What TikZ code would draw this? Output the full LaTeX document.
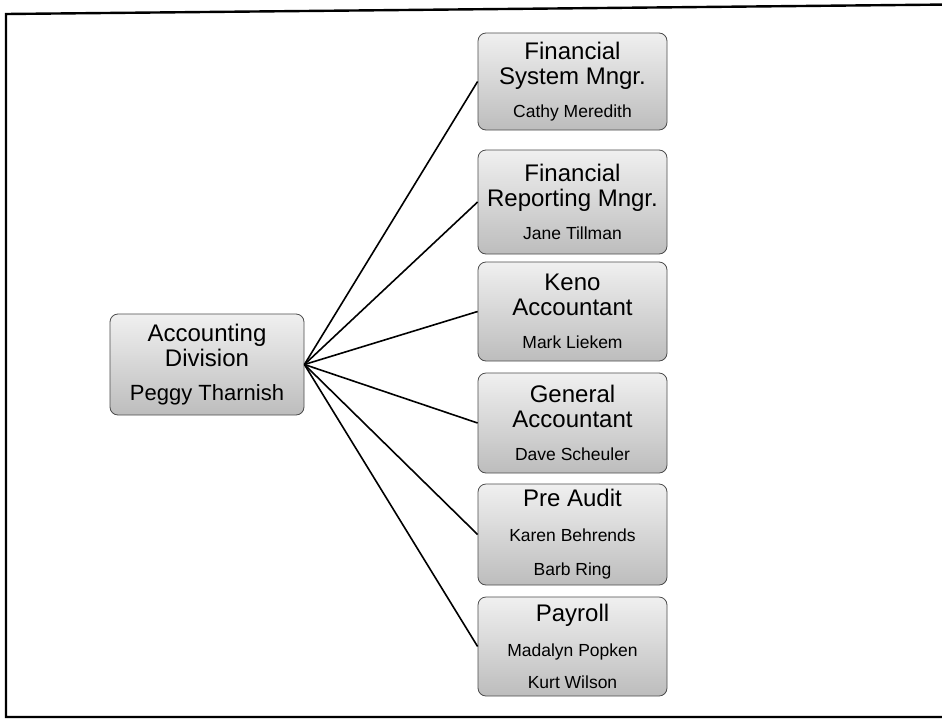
\documentclass[tikz,border=0pt]{standalone}
\usepackage{fontspec}
\setmainfont{Liberation Sans}
\usetikzlibrary{shadings}

% type sizes used inside the boxes
\newcommand\posttitle{\fontsize{24}{25}\selectfont}
\newcommand\personname{\fontsize{17.5}{28}\selectfont}
\newcommand\headname{\fontsize{22}{26}\selectfont}

\tikzset{
  orgbox/.style={
    draw=black!70, line width=0.8pt, rounded corners=8pt,
    top color=black!6, bottom color=black!26,
    inner sep=0pt, align=center, minimum width=189pt, font=\posttitle
  },
  headbox/.style={orgbox, minimum width=194pt, minimum height=101pt},
  link/.style={draw=black, line width=1.6pt},
  frame/.style={draw=black, line width=2.4pt}
}

\begin{document}
\begin{tikzpicture}[x=1pt,y=-1pt]
  \useasboundingbox (0,0) rectangle (942,723);
  \fill[white] (0,0) rectangle (942,723);

  % outer frame, partly cut by the page edge
  \draw[frame] (950,4.5) -- (6,14) -- (6,717) -- (950,717);

  % division head
  \node[headbox] (acct) at (207,364.5)
    {Accounting\\Division\\[9pt]\headname Peggy Tharnish};

  % units
  \node[orgbox, minimum height=97pt]  (fsm)  at (572.5,81.5)
    {Financial\\System Mngr.\\[8pt]\personname Cathy Meredith};
  \node[orgbox, minimum height=104pt] (frm)  at (572.5,202)
    {Financial\\Reporting Mngr.\\[8pt]\personname Jane Tillman};
  \node[orgbox, minimum height=99pt]  (keno) at (572.5,311.5)
    {Keno\\Accountant\\[8pt]\personname Mark Liekem};
  \node[orgbox, minimum height=100pt] (gen)  at (572.5,423)
    {General\\Accountant\\[8pt]\personname Dave Scheuler};
  \node[orgbox, minimum height=101pt] (pre)  at (572.5,534.5)
    {Pre Audit\\[10pt]\personname Karen Behrends\\[9pt]\personname Barb Ring};
  \node[orgbox, minimum height=99pt]  (pay)  at (572.5,646.5)
    {Payroll\\[10pt]\personname Madalyn Popken\\[7pt]\personname Kurt Wilson};

  % reporting lines
  \foreach \u in {fsm,frm,keno,gen,pre,pay}
    \draw[link] (acct.east) -- (\u.west);
\end{tikzpicture}
\end{document}
